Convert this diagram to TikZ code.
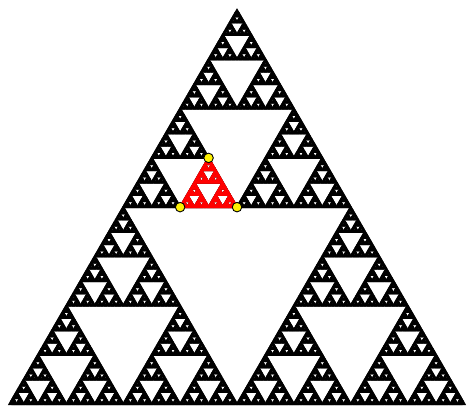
\documentclass[tikz,border=0pt]{standalone}
\tikzset{
  tri/.style={draw=black,fill=black,line width=2pt},
  redtri/.style={draw=red,fill=red,line width=2pt},
  ydot/.style={circle,draw=black,fill=yellow,line width=0.9pt,inner sep=0pt,minimum size=9.5pt}
}
\newcommand\sierpdraw[5]{% depth, x, y, side, style
  \ifnum#1=0
    \path[#5] (#2pt,#3pt) -- ++(#4pt,0pt) -- ++(120:#4pt) -- cycle;
  \else
    \begingroup
      \pgfmathsetmacro\sh{#4/2}%
      \pgfmathsetmacro\xr{#2+\sh}%
      \pgfmathsetmacro\xt{#2+\sh/2}%
      \pgfmathsetmacro\yt{#3+\sh*0.8660254}%
      \edef\next{%
        \noexpand\sierpdraw{\the\numexpr#1-1\relax}{#2}{#3}{\sh}{#5}%
        \noexpand\sierpdraw{\the\numexpr#1-1\relax}{\xr}{#3}{\sh}{#5}%
        \noexpand\sierpdraw{\the\numexpr#1-1\relax}{\xt}{\yt}{\sh}{#5}}%
      \next
    \endgroup
  \fi}
\begin{document}
\begin{tikzpicture}
  \useasboundingbox (0,0) rectangle (467pt,406pt);
  \sierpdraw{7}{9.5}{1.8}{455}{tri}
  \sierpdraw{4}{180.125}{198.82}{56.875}{redtri}
  \coordinate (rl) at (180.125pt,198.82pt);
  \coordinate (rr) at (237pt,198.82pt);
  \coordinate (rt) at (208.5625pt,248.075pt);
  \node[ydot] (dl) at (rl) {};
  \node[ydot] (dr) at (rr) {};
  \node[ydot] (dt) at (rt) {};
\end{tikzpicture}
\end{document}
